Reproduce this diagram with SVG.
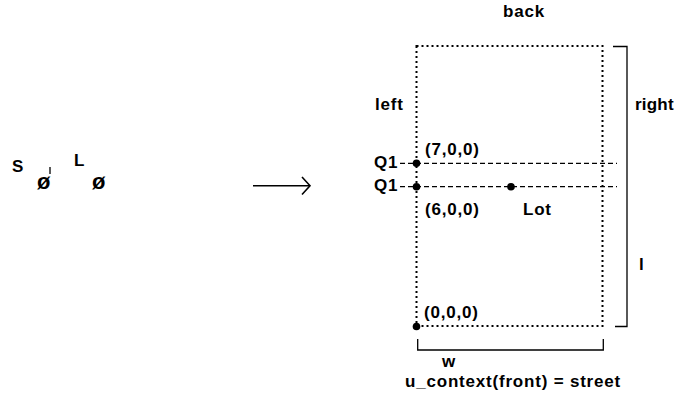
<svg xmlns="http://www.w3.org/2000/svg" width="675" height="402" viewBox="0 0 675 402">
<style>
text{font-family:"Liberation Sans",Arial,Helvetica,sans-serif;font-size:17px;font-weight:bold;fill:#000;letter-spacing:0.8px}
.sym{font-size:22px}
.dot{fill:#000}
.dotted{fill:none;stroke:#000;stroke-width:2;stroke-dasharray:2 3}
.dashed{fill:none;stroke:#000;stroke-width:1.2;stroke-dasharray:5 3}
.solid{fill:none;stroke:#000;stroke-width:1.3}
</style>
<rect width="675" height="402" fill="#fff"/>
<g id="symbols">
<text x="12" y="172">S</text>
<text class="sym" x="37" y="189">ø</text>
<line class="solid" x1="50" y1="167" x2="50" y2="174"/>
<text x="74" y="166">L</text>
<text class="sym" x="92" y="189">ø</text>
</g>
<g id="lot">
<rect class="dotted" x="416.5" y="46" width="186" height="280"/>
<text x="503" y="17">back</text>
<text x="375" y="110">left</text>
<text x="635" y="110" style="letter-spacing:0.2px">right</text>
<text x="639" y="270">l</text>
<text x="442" y="367">w</text>
<text x="405" y="387">u_context(front) = street</text>
</g>
<g id="points">
<text x="374" y="168">Q1</text>
<text x="374" y="191">Q1</text>
<text x="425" y="155">(7,0,0)</text>
<text x="425" y="215">(6,0,0)</text>
<text x="523" y="215">Lot</text>
<text x="424" y="318">(0,0,0)</text>
<circle class="dot" cx="416.5" cy="163.3" r="3.8"/>
<circle class="dot" cx="416.5" cy="186.7" r="3.8"/>
<circle class="dot" cx="511" cy="186.7" r="3.8"/>
<circle class="dot" cx="416.5" cy="326.5" r="3.8"/>
</g>
<g id="connectors">
<line class="dashed" x1="400" y1="163.3" x2="617" y2="163.3"/>
<line class="dashed" x1="400" y1="186.7" x2="617" y2="186.7"/>
<polyline class="solid" points="613,46.5 627,46.5 627,326.5 615,326.5"/>
<polyline class="solid" points="417.7,339 417.7,350 603.3,350 603.3,339"/>
<line stroke="#000" stroke-width="1.6" x1="253" y1="185.7" x2="309" y2="185.7"/>
<polyline fill="none" stroke="#000" stroke-width="1.6" points="302,177 310,185.7 302,194.5"/>
</g>
</svg>
